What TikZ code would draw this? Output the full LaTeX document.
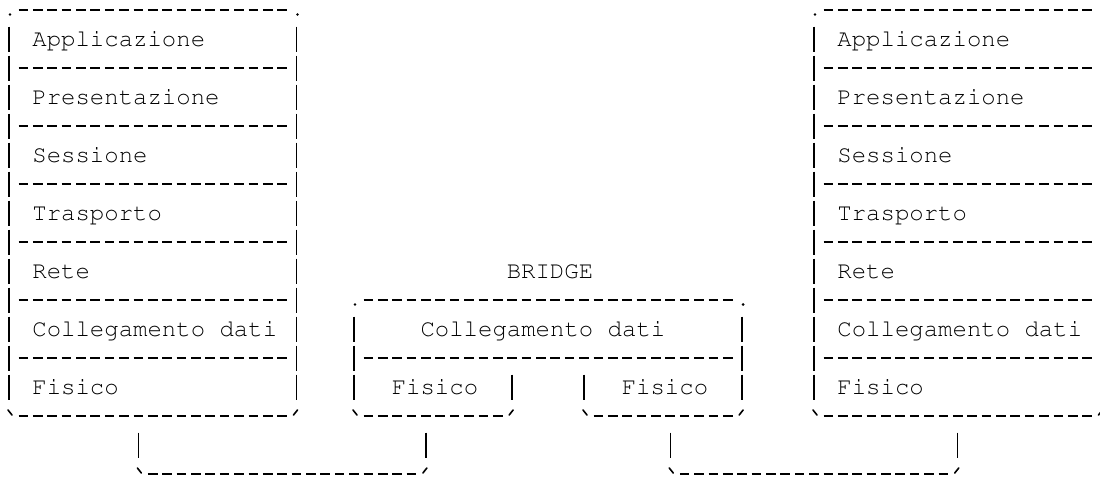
\documentclass[tikz,border=0pt]{standalone}
\usepackage[T1,TU]{fontenc}
\usepackage{tikz}
\usetikzlibrary{positioning, calc}

\newcommand{\cour}{\fontencoding{T1}\fontfamily{pcr}\fontsize{12}{14}\selectfont}

\tikzset{
    hline/.style={line width=0.7pt, dash pattern=on 4.8pt off 2.3875pt},
    vline/.style={line width=0.7pt, dash pattern=on 12.5pt off 2pt},
    tick/.style={line width=0.8pt, line cap=round},
    layer/.style={font=\cour, anchor=base west, inner sep=0pt},
}

\begin{document}
\begin{tikzpicture}[x=7.1875pt, y=-14.5pt]
    \useasboundingbox (-0.626,-0.345) rectangle (75.896,16.138);

    % Left stack (cols 0..20)
    \foreach \c in {0,20} {
        \fill ([xshift=0.5pt,yshift=-2.25pt]\c,0) circle (0.7pt);
        \draw[vline] (\c,0.569) -- (\c,13.431);
    }
    \foreach \r in {0,2,...,14}
        \draw[hline] ([xshift=-2.4pt]1,\r) -- ([xshift=2.4pt]19,\r);

    % Right stack (cols 56..76, runs off the edge)
    \foreach \c in {56,76} {
        \fill ([xshift=0.5pt,yshift=-2.25pt]\c,0) circle (0.7pt);
        \draw[vline] (\c,0.569) -- (\c,13.431);
    }
    \foreach \r in {0,2,...,14}
        \draw[hline] ([xshift=-2.4pt]57,\r) -- ([xshift=2.4pt]75,\r);

    % Layer names, same on both stacks
    \foreach \name/\r/\txt in {app/1/Applicazione, pres/3/Presentazione, sess/5/Sessione,
            tras/7/Trasporto, rete/9/Rete, coll/11/Collegamento dati, fis/13/Fisico} {
        \node[layer] (l\name) at ([yshift=-3.5pt]1.6,\r) {\txt};
        \node[layer] (r\name) at ([yshift=-3.5pt]57.6,\r) {\txt};
    }

    % Bridge (cols 24..51)
    \node[layer] (bridge) at ([yshift=-3.5pt]34.6,9) {BRIDGE};
    \foreach \c in {24,51} {
        \fill ([xshift=0.5pt,yshift=-2.25pt]\c,10) circle (0.7pt);
        \draw[vline] (\c,10.569) -- (\c,13.431);
    }
    \foreach \r in {10,12}
        \draw[hline] ([xshift=-2.4pt]25,\r) -- ([xshift=2.4pt]50,\r);
    \foreach \c in {35,40}
        \draw[vline] (\c,12.569) -- (\c,13.431);
    \draw[hline] ([xshift=-2.4pt]25,14) -- ([xshift=2.4pt]34,14);
    \draw[hline] ([xshift=-2.4pt]41,14) -- ([xshift=2.4pt]50,14);
    \node[layer] (bcoll) at ([yshift=-3.5pt]28.6,11) {Collegamento dati};
    \node[layer] (bfisa) at ([yshift=-3.5pt]26.6,13) {Fisico};
    \node[layer] (bfisb) at ([yshift=-3.5pt]42.6,13) {Fisico};

    % Cables between the physical layers
    \coordinate (lport) at (9,14);
    \coordinate (bporta) at (29,14);
    \coordinate (bportb) at (46,14);
    \coordinate (rport) at (66,14);
    \foreach \p in {lport,bporta,bportb,rport}
        \draw[vline] ([yshift=-8.25pt]\p) -- ++(0,-12.5pt);
    \draw[hline] ([xshift=-2.4pt]10,16) -- ([xshift=2.4pt]28,16);
    \draw[hline] ([xshift=-2.4pt]47,16) -- ([xshift=2.4pt]65,16);

    % Bottom corners
    \foreach \c/\r in {0/14, 56/14, 24/14, 40/14, 9/16, 46/16}
        \draw[tick] ([xshift=-0.5pt,yshift=3pt]\c,\r) -- ++(2pt,-2.5pt);
    \foreach \c/\r in {20/14, 76/14, 35/14, 51/14, 29/16, 66/16}
        \draw[tick] ([xshift=0.5pt,yshift=3pt]\c,\r) -- ++(-2pt,-2.5pt);
\end{tikzpicture}
\end{document}
